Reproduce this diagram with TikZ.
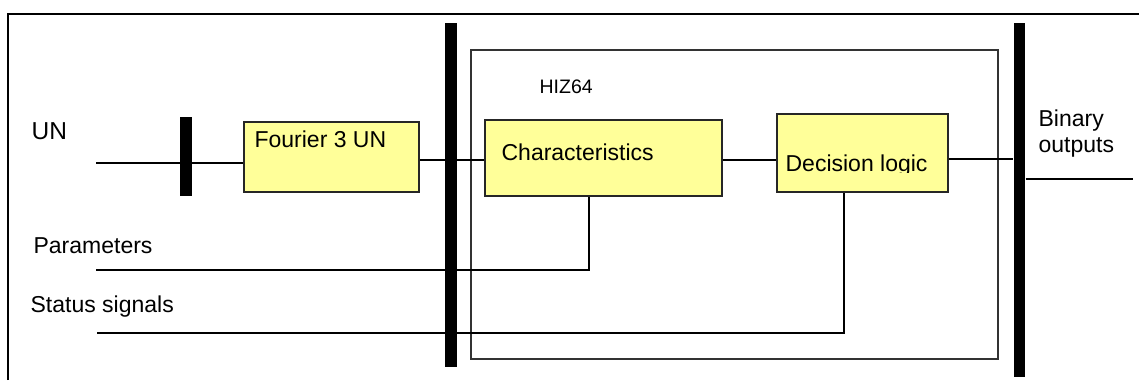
\documentclass[tikz,border=0pt]{standalone}
\usepackage{fontspec}
\setmainfont{Liberation Sans}
\definecolor{boxyellow}{HTML}{FFFF99}
\begin{document}
\begin{tikzpicture}[x=0.5pt,y=0.5pt,line width=0.6pt]
    \tikzstyle{block}=[rectangle, draw=black!85, line width=1pt, fill=boxyellow, inner sep=0pt]
    \tikzstyle{busbar}=[rectangle, fill=black, inner sep=0pt]
    \tikzstyle{txt}=[inner sep=0pt, anchor=base west, font=\fontsize{11.5}{13.3}\selectfont]
    \useasboundingbox (0,0) rectangle (1139,380);
    % frame
    \draw[line width=1pt] (8,0) -- (8,366) -- (1139,366);
    % bars
    \node[busbar, minimum width=6pt, minimum height=39.5pt] (bar0) at (186,223.5) {};
    \node[busbar, minimum width=6pt, minimum height=172pt] (bar1) at (451,185) {};
    \node[busbar, minimum width=5.5pt, minimum height=177pt] (bar2) at (1019.5,180) {};
    % HIZ64 function
    \node[rectangle, draw=black!80, line width=0.8pt, minimum width=263.5pt, minimum height=154.5pt] (hiz) at (734.5,175.5) {};
    \node[txt, font=\fontsize{9.75}{11}\selectfont] (hizlbl) at (539,286) {HIZ64};
    % blocks
    \node[block, minimum width=87.5pt, minimum height=35pt] (fourier) at (331.5,223) {};
    \node[block, minimum width=118.5pt, minimum height=38pt] (charac) at (603.5,222) {};
    \node[block, minimum width=85.5pt, minimum height=39pt] (decision) at (862.5,227) {};
    \node[txt] (fourierlbl) at (254,232) {Fourier 3 UN};
    \node[txt] (characlbl) at (501,219) {Characteristics};
    \begin{scope}
      \clip (777,207) rectangle (948,266);
      \node[txt] (decisionlbl) at (785,208) {Decision logic};
    \end{scope}
    % inputs and outputs
    \node[txt, font=\fontsize{12.25}{14}\selectfont] (unlbl) at (31,240) {UN};
    \node[txt] (parlbl) at (33,126) {Parameters};
    \node[txt] (statlbl) at (30,68) {Status signals};
    \node[txt] (binlbl) at (1038,253) {Binary};
    \node[txt] (outlbl) at (1038,227) {outputs};
    \coordinate (unin) at (96,217);
    \coordinate (sigline) at (0,220);
    \coordinate (outline) at (0,221);
    \coordinate (binout) at (1133,201);
    \coordinate (parin) at (96,110);
    \coordinate (parx) at (589,0);
    \coordinate (statin) at (97,47);
    \coordinate (statx) at (844,0);
    \draw (unin) -- (fourier.west |- unin);
    \draw (fourier.east |- sigline) -- (charac.west |- sigline);
    \draw (charac.east |- sigline) -- (decision.west |- sigline);
    \draw (decision.east |- outline) -- (bar2.west |- outline);
    \draw (bar2.east |- binout) -- (binout);
    \draw (parin) -| (charac.south -| parx);
    \draw (statin) -| (decision.south -| statx);
\end{tikzpicture}
\end{document}
